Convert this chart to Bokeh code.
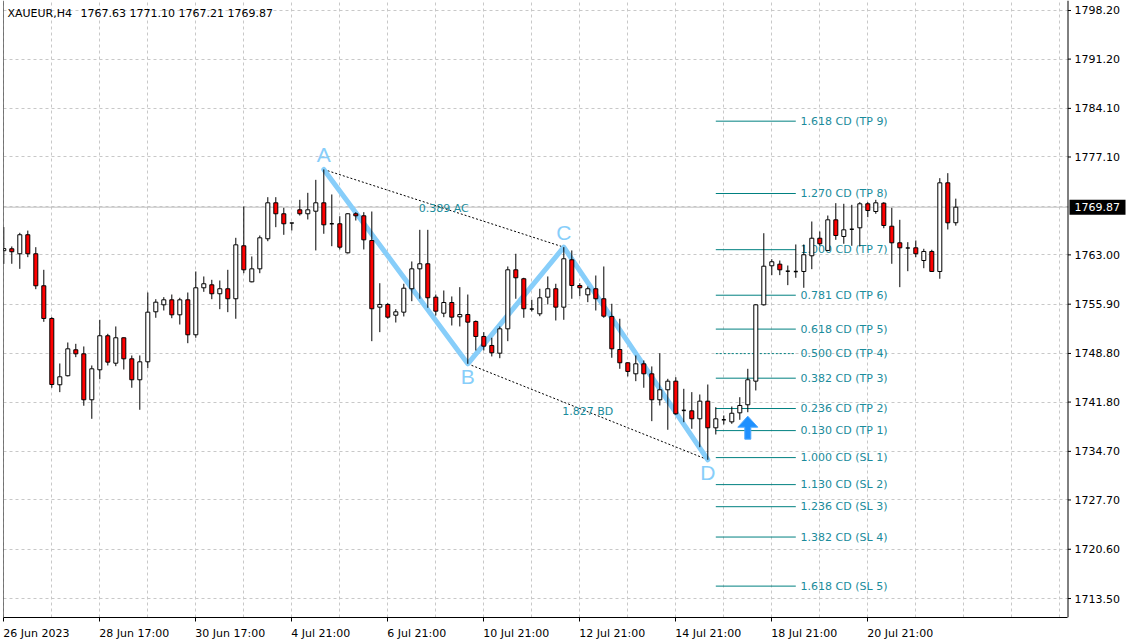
from bokeh.plotting import figure
from bokeh.models import FixedTicker, Label, Span, Range1d
from bokeh.embed import file_html
from bokeh.resources import INLINE
from bokeh.core.properties import value

# ---------------- data ----------------
symbol = "XAUEUR,H4"
quote_text = "1767.63 1771.10 1767.21 1769.87"
last_price = 1769.87

opens = [1763.60, 1763.88, 1763.16, 1765.90, 1763.16, 1758.55, 1753.84, 1744.29, 1745.59, 1749.33,
         1748.75, 1742.13, 1746.45, 1751.35, 1747.40, 1751.06, 1748.03, 1745.01, 1747.60, 1754.80,
         1755.81, 1756.53, 1754.37, 1756.53, 1751.49, 1758.26, 1758.69, 1757.40, 1758.12, 1756.68,
         1764.31, 1759.12, 1760.99, 1765.32, 1770.50, 1768.92, 1767.60, 1769.49, 1768.92, 1769.29,
         1770.50, 1767.50, 1767.48, 1763.30, 1768.92, 1768.63, 1765.07, 1755.47, 1755.86, 1754.31,
         1754.75, 1758.12, 1760.99, 1761.72, 1756.91, 1754.60, 1756.14, 1754.08, 1754.41, 1753.41,
         1751.25, 1749.95, 1748.84, 1752.35, 1760.85, 1759.56, 1755.20, 1754.51, 1756.91, 1758.12,
         1755.47, 1762.29, 1758.59, 1757.25, 1758.12, 1756.68, 1754.13, 1749.37, 1747.46, 1745.87,
         1747.31, 1745.87, 1742.13, 1743.57, 1744.81, 1740.60, 1740.54, 1739.39, 1741.93, 1738.09,
         1739.25, 1738.95, 1740.25, 1741.41, 1744.81, 1755.81, 1761.43, 1761.66, 1760.65, 1760.60,
         1760.61, 1762.87, 1765.40, 1763.64, 1768.05, 1765.65, 1766.70, 1766.90, 1770.36, 1769.25,
         1770.45, 1767.13, 1764.74, 1764.00, 1764.02, 1762.19, 1763.49, 1760.61, 1773.38, 1767.63]
highs = [1767.00, 1764.21, 1766.18, 1766.50, 1764.11, 1760.85, 1754.03, 1747.36, 1750.38, 1750.19,
         1749.81, 1747.07, 1753.65, 1751.63, 1752.69, 1751.10, 1748.51, 1748.51, 1757.58, 1756.62,
         1756.91, 1757.29, 1756.82, 1757.58, 1760.61, 1759.89, 1759.41, 1759.31, 1760.85, 1765.46,
         1769.97, 1762.77, 1765.79, 1771.31, 1771.31, 1769.78, 1767.62, 1770.93, 1771.94, 1773.81,
         1775.30, 1771.70, 1768.57, 1769.00, 1769.15, 1769.15, 1769.25, 1758.92, 1756.04, 1755.18,
         1758.84, 1762.05, 1766.61, 1766.61, 1757.29, 1757.87, 1757.01, 1758.35, 1757.29, 1753.55,
         1751.87, 1751.06, 1752.69, 1761.33, 1763.16, 1759.70, 1756.53, 1758.12, 1759.89, 1758.84,
         1764.11, 1763.64, 1758.92, 1758.45, 1760.03, 1761.33, 1755.96, 1753.80, 1747.50, 1748.51,
         1747.79, 1746.93, 1748.84, 1745.15, 1745.38, 1743.71, 1743.23, 1742.89, 1744.33, 1741.06,
         1739.87, 1741.16, 1742.50, 1746.59, 1755.90, 1766.12, 1762.38, 1762.19, 1761.47, 1764.50,
         1764.50, 1767.81, 1766.37, 1768.67, 1770.45, 1770.36, 1770.21, 1770.59, 1770.59, 1770.93,
         1770.59, 1769.78, 1768.05, 1764.83, 1765.07, 1763.88, 1763.74, 1774.05, 1774.77, 1771.10]
lows = [1761.70, 1761.72, 1760.99, 1762.67, 1758.06, 1753.36, 1743.86, 1743.23, 1745.50, 1748.27,
        1741.27, 1739.39, 1745.09, 1747.07, 1746.97, 1746.49, 1743.86, 1740.69, 1746.68, 1753.94,
        1754.99, 1753.88, 1752.97, 1750.28, 1751.06, 1757.68, 1756.62, 1755.18, 1754.75, 1753.80,
        1760.36, 1759.05, 1760.36, 1764.97, 1766.99, 1765.89, 1766.51, 1768.67, 1768.10, 1763.64,
        1766.04, 1764.25, 1763.78, 1763.20, 1767.95, 1763.78, 1750.57, 1751.87, 1753.80, 1753.26,
        1754.13, 1756.33, 1756.68, 1755.38, 1754.27, 1754.03, 1752.83, 1752.69, 1747.31, 1749.23,
        1749.23, 1748.37, 1748.12, 1750.57, 1756.68, 1753.94, 1754.85, 1754.17, 1755.86, 1753.55,
        1753.65, 1756.68, 1757.05, 1756.19, 1754.99, 1753.94, 1748.18, 1746.59, 1745.49, 1744.81,
        1743.86, 1739.05, 1741.31, 1737.81, 1739.97, 1738.90, 1737.95, 1735.30, 1733.49, 1737.13,
        1738.57, 1738.67, 1739.25, 1740.34, 1743.47, 1755.70, 1760.08, 1760.08, 1758.64, 1759.70,
        1758.26, 1760.94, 1764.31, 1763.60, 1765.17, 1764.60, 1764.31, 1764.21, 1768.43, 1768.92,
        1766.84, 1761.72, 1758.35, 1760.65, 1762.67, 1761.08, 1760.55, 1759.56, 1766.66, 1767.21]
closes = [1763.90, 1763.45, 1765.90, 1763.16, 1758.55, 1753.84, 1744.33, 1745.44, 1749.47, 1748.75,
          1742.13, 1746.59, 1751.35, 1747.55, 1751.06, 1748.03, 1745.01, 1747.60, 1754.75, 1756.19,
          1756.53, 1754.37, 1756.53, 1751.49, 1758.26, 1758.84, 1757.40, 1758.12, 1756.68, 1764.45,
          1760.85, 1760.99, 1765.46, 1770.50, 1768.92, 1767.48, 1767.60, 1768.92, 1769.49, 1770.50,
          1767.33, 1767.50, 1764.11, 1768.92, 1768.63, 1765.17, 1755.24, 1755.86, 1754.03, 1754.80,
          1758.20, 1760.99, 1761.72, 1756.82, 1754.89, 1756.14, 1754.03, 1754.41, 1753.31, 1751.25,
          1749.85, 1748.90, 1752.35, 1760.85, 1759.70, 1755.24, 1755.20, 1756.82, 1758.12, 1755.47,
          1762.44, 1758.59, 1758.26, 1758.12, 1756.68, 1754.17, 1749.47, 1747.46, 1746.21, 1747.31,
          1745.87, 1742.13, 1743.57, 1744.81, 1740.11, 1740.60, 1739.39, 1741.93, 1738.09, 1739.39,
          1739.25, 1740.19, 1741.31, 1745.01, 1755.81, 1761.37, 1762.01, 1760.85, 1760.65, 1760.60,
          1763.02, 1765.40, 1764.60, 1768.05, 1765.79, 1766.61, 1766.70, 1770.36, 1769.39, 1770.50,
          1767.23, 1764.74, 1764.02, 1764.00, 1763.16, 1763.49, 1760.61, 1773.38, 1767.62, 1769.87]

date_tick_idx = [0, 12, 24, 36, 48, 60, 72, 84, 96, 108]
date_tick_labels = ["26 Jun 2023", "28 Jun 17:00", "30 Jun 17:00", "4 Jul 21:00", "6 Jul 21:00",
                    "10 Jul 21:00", "12 Jul 21:00", "14 Jul 21:00", "18 Jul 21:00", "20 Jul 21:00"]
price_ticks = [1713.50, 1720.60, 1727.70, 1734.70, 1741.80, 1748.80, 1755.90, 1763.00,
               1777.10, 1784.10, 1791.20, 1798.20]
hidden_price_tick = 1770.00

pattern_names = ["A", "B", "C", "D"]
pattern_idx = [40, 58, 70, 88]
pattern_price = [1775.30, 1747.31, 1764.11, 1733.49]
ratio_labels = ["0.389 AC", "1.827 BD"]

fib_labels = ["1.618 CD (TP 9)", "1.270 CD (TP 8)", "1.000 CD (TP 7)", "0.781 CD (TP 6)",
              "0.618 CD (TP 5)", "0.500 CD (TP 4)", "0.382 CD (TP 3)", "0.236 CD (TP 2)",
              "0.130 CD (TP 1)", "1.000 CD (SL 1)", "1.130 CD (SL 2)", "1.236 CD (SL 3)",
              "1.382 CD (SL 4)", "1.618 CD (SL 5)"]
fib_prices = [1782.26, 1771.84, 1763.75, 1757.19, 1752.31, 1748.78, 1745.24, 1740.87,
              1737.69, 1733.80, 1729.91, 1726.73, 1722.36, 1715.29]

signal_idx = 93
signal_price = 1739.77

# ---------------- layout ----------------
FW, FH = 1128, 617
X0 = -0.0375
XA = 132.9625          # position of the price scale (frame right edge of the chart)
X1 = X0 + FW / 8.0
Y0, Y1 = 1710.77, 1799.64
pxx = FW / (X1 - X0)
pxy = FH / (Y1 - Y0)

FONT = "DejaVu Sans"
TEAL_LINE = "#008080"
TEAL_TEXT = "#1a8b9b"
PATTERN = "#87cefa"
GRID = "#c8c8c8"

p = figure(frame_width=FW, frame_height=FH,
           x_range=Range1d(X0, X1), y_range=Range1d(Y0, Y1),
           toolbar_location=None, output_backend="svg",
           min_border_left=3, min_border_top=0, min_border_right=0, min_border_bottom=24,
           background_fill_color="white", border_fill_color="white")
p.outline_line_color = None
p.yaxis.visible = False


# x axis (below): labels left-aligned at the tick -> major ticks at label centres
def text_w(s, size=11):
    cw = {" ": 0.318, "J": 0.295, "u": 0.634, "n": 0.634, "l": 0.278, ":": 0.337}
    return sum(0.636 if ch.isdigit() else cw.get(ch, 0.6) for ch in s) * size


centers = [round(i + (text_w(s) / 2 - 0.5) / pxx, 4) for i, s in zip(date_tick_idx, date_tick_labels)]
xa = p.xaxis[0]
xa.bounds = (X0, XA)
xa.ticker = FixedTicker(ticks=centers, minor_ticks=date_tick_idx)
xa.major_label_overrides = {c: s for c, s in zip(centers, date_tick_labels)}
xa.major_tick_line_color = None
xa.major_tick_in = 0
xa.major_tick_out = 4
xa.minor_tick_in = 0
xa.minor_tick_out = 4
xa.minor_tick_line_color = "black"
xa.major_label_standoff = 5
xa.major_label_text_font = FONT
xa.major_label_text_font_size = "11px"
xa.major_label_text_color = "black"
xa.axis_line_color = "black"

# grid
p.xgrid.ticker = FixedTicker(ticks=list(range(0, 133, 6)))
p.ygrid.ticker = FixedTicker(ticks=price_ticks + [hidden_price_tick])
p.grid.grid_line_color = GRID
p.grid.grid_line_dash = "3 3"
p.grid.grid_line_width = 1

# frame left edge and last price line
p.add_layout(Span(location=X0, dimension="height", line_color="black", line_width=1, level="overlay"))
p.add_layout(Span(location=last_price, dimension="width", line_color="#c0c0c0", line_width=1,
                  level="underlay"))

# fibonacci levels
d_i = pattern_idx[3]
lx0, lx1, tx = d_i + 1.0, d_i + 11.0, d_i + 11.6
dashed = {"0.500 CD (TP 4)"}
solid_y = [y for y, l in zip(fib_prices, fib_labels) if l not in dashed]
dash_y = [y for y, l in zip(fib_prices, fib_labels) if l in dashed]
p.segment(x0=[lx0] * len(solid_y), x1=[lx1] * len(solid_y), y0=solid_y, y1=solid_y,
          line_color=TEAL_LINE, line_width=1)
p.segment(x0=[lx0] * len(dash_y), x1=[lx1] * len(dash_y), y0=dash_y, y1=dash_y,
          line_color=TEAL_LINE, line_width=1, line_dash="2 2")
p.text(x=[tx] * len(fib_labels), y=fib_prices, text=fib_labels, text_font=value(FONT),
       text_font_size="11px", text_color=TEAL_TEXT, text_align="left", text_baseline="middle")

# pattern
p.line([pattern_idx[0], pattern_idx[2]], [pattern_price[0], pattern_price[2]],
       line_color="black", line_width=1, line_dash="2 2")
p.line([pattern_idx[1], pattern_idx[3]], [pattern_price[1], pattern_price[3]],
       line_color="black", line_width=1, line_dash="2 2")
p.line(pattern_idx, pattern_price, line_color=PATTERN, line_width=5, line_join="round", line_cap="round")
mid_x = [(pattern_idx[0] + pattern_idx[2]) / 2, (pattern_idx[1] + pattern_idx[3]) / 2]
mid_y = [(pattern_price[0] + pattern_price[2]) / 2, (pattern_price[1] + pattern_price[3]) / 2]
p.text(x=mid_x, y=mid_y, text=ratio_labels, text_font=value(FONT), text_font_size="11px",
       text_color=TEAL_TEXT, text_align="center", text_baseline="middle")
up_i = [0, 2]
dn_i = [1, 3]
p.text(x=[pattern_idx[k] for k in up_i], y=[pattern_price[k] + 3 / pxy for k in up_i],
       text=[pattern_names[k] for k in up_i], text_font=value("Liberation Sans"),
       text_font_size="21px", text_color=PATTERN, text_align="center", text_baseline="bottom")
p.text(x=[pattern_idx[k] for k in dn_i], y=[pattern_price[k] - 1.5 / pxy for k in dn_i],
       text=[pattern_names[k] for k in dn_i], text_font=value("Liberation Sans"),
       text_font_size="21px", text_color=PATTERN, text_align="center", text_baseline="top")

# candles
n = len(opens)
idx = list(range(n))
bw = 4.0 / pxx
p.segment(x0=idx, x1=idx, y0=lows, y1=highs, line_color="black", line_width=1)
up = [i for i in idx if closes[i] > opens[i]]
dn = [i for i in idx if closes[i] < opens[i]]
dj = [i for i in idx if closes[i] == opens[i]]
p.vbar(x=up, width=bw, top=[closes[i] for i in up], bottom=[opens[i] for i in up],
       fill_color="white", line_color="black", line_width=1)
p.vbar(x=dn, width=bw, top=[opens[i] for i in dn], bottom=[closes[i] for i in dn],
       fill_color="#ff0000", line_color="black", line_width=1)
p.segment(x0=[i - bw / 2 for i in dj], x1=[i + bw / 2 for i in dj],
          y0=[closes[i] for i in dj], y1=[closes[i] for i in dj], line_color="black", line_width=1.5)

# buy arrow
hw, sw = 10 / pxx, 3 / pxx
hh, tot = 11 / pxy, 23 / pxy
s, t = signal_idx, signal_price
p.patch([s, s + hw, s + sw, s + sw, s - sw, s - sw, s - hw],
        [t, t - hh, t - hh, t - tot, t - tot, t - hh, t - hh],
        fill_color="#1e90ff", line_color="#4aa8ff", line_width=1)

# price scale on the right (drawn inside the canvas so the last-price box can sit on it)
ax = XA + 0.5 / pxx
p.quad(left=[XA + 1 / pxx], right=[X1], bottom=[Y0], top=[Y1], fill_color="white", line_color=None)
p.segment(x0=[ax], x1=[ax], y0=[Y0], y1=[Y1], line_color="black", line_width=1)
p.segment(x0=[ax] * len(price_ticks), x1=[ax + 3 / pxx] * len(price_ticks),
          y0=price_ticks, y1=price_ticks, line_color="black", line_width=1)
p.text(x=[XA + 7 / pxx] * len(price_ticks), y=price_ticks, text=[f"{v:.2f}" for v in price_ticks],
       text_font=value(FONT), text_font_size="11px", text_color="black",
       text_align="left", text_baseline="middle")
p.quad(left=[XA + 2 / pxx], right=[XA + 58 / pxx], bottom=[last_price - 7.5 / pxy],
       top=[last_price + 7.5 / pxy], fill_color="black", line_color=None)
p.text(x=[XA + 7 / pxx], y=[last_price], text=[f"{last_price:.2f}"], text_font=value(FONT),
       text_font_size="11px", text_color="white", text_align="left", text_baseline="middle")

# title
p.add_layout(Label(x=X0 + 4 / pxx, y=Y1 - 6 / pxy, text=symbol, text_font=FONT, text_font_size="11px",
                   text_color="black", text_baseline="top", text_align="left"))
p.add_layout(Label(x=X0 + 77 / pxx, y=Y1 - 6 / pxy, text=quote_text, text_font=FONT,
                   text_font_size="11px", text_color="black", text_baseline="top", text_align="left"))

open("out.html", "w").write(file_html(p, INLINE))
